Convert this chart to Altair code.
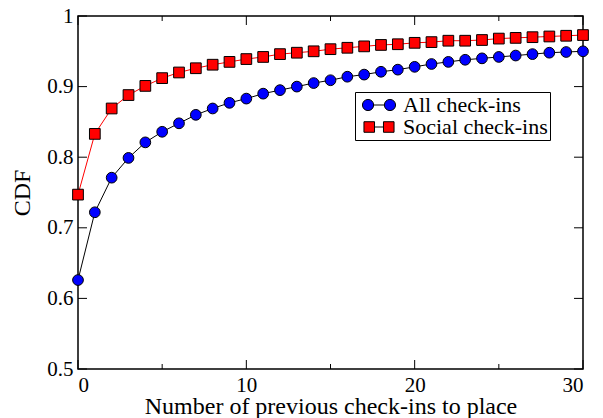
import altair as alt
import pandas as pd

# ---- data ----
checkins = list(range(31))
all_cdf = [0.626, 0.722, 0.771, 0.799, 0.821, 0.836, 0.848, 0.860, 0.869, 0.877,
           0.883, 0.890, 0.895, 0.900, 0.905, 0.909, 0.914, 0.917, 0.921, 0.924,
           0.928, 0.932, 0.935, 0.938, 0.940, 0.942, 0.944, 0.946, 0.948, 0.949,
           0.950]
social_cdf = [0.747, 0.833, 0.869, 0.888, 0.901, 0.912, 0.920, 0.926, 0.931, 0.935,
              0.939, 0.942, 0.946, 0.948, 0.950, 0.953, 0.955, 0.957, 0.959, 0.960,
              0.962, 0.963, 0.965, 0.965, 0.966, 0.968, 0.969, 0.970, 0.971, 0.972,
              0.973]
series_names = ["All check-ins", "Social check-ins"]
x_major_ticks = [0, 10, 20, 30]
x_minor_ticks = [5, 15, 25]
y_ticks = [0.5, 0.6, 0.7, 0.8, 0.9, 1.0]

# ---- styling ----
W, H = 505, 353
FONT = "Liberation Serif"
MAJ, MIN = 9, 5
fill_colors = ["#0000ff", "#ff0000"]
line_colors = ["#000000", "#ff0000"]
# legend glyphs (unit = 8 px): marker - line - marker
circle_pair = ("M -2.07 0 A 0.7 0.7 0 1 0 -0.67 0 A 0.7 0.7 0 1 0 -2.07 0 Z "
               "M -0.67 0 L 0.67 0 "
               "M 0.67 0 A 0.7 0.7 0 1 0 2.07 0 A 0.7 0.7 0 1 0 0.67 0 Z")
square_pair = ("M -1.88 -0.66 L -0.56 -0.66 L -0.56 0.66 L -1.88 0.66 Z "
               "M -0.56 0 L 0.56 0 "
               "M 0.56 -0.66 L 1.88 -0.66 L 1.88 0.66 L 0.56 0.66 Z")

df = pd.DataFrame({
    "x": checkins * 2,
    "cdf": all_cdf + social_cdf,
    "series": [series_names[0]] * len(checkins) + [series_names[1]] * len(checkins),
})
xmaj = pd.DataFrame({"x": x_major_ticks})
xmin = pd.DataFrame({"x": x_minor_ticks})
yt = pd.DataFrame({"cdf": y_ticks})

xscale = alt.Scale(domain=[0, 30], nice=False, zero=False)
yscale = alt.Scale(domain=[0.5, 1.0], nice=False, zero=False)

x_axis = alt.Axis(
    values=x_major_ticks, title="Number of previous check-ins to place",
    ticks=False, domain=False, grid=False, labelFont=FONT, labelFontSize=21,
    labelColor="black", labelPadding=5, titleFont=FONT, titleFontSize=24,
    titleFontWeight="normal", titleColor="black", titlePadding=-1)
y_axis = alt.Axis(
    values=y_ticks, format=".1~f", title="CDF",
    ticks=False, domain=False, grid=False, labelFont=FONT, labelFontSize=21,
    labelColor="black", labelPadding=5, titleFont=FONT, titleFontSize=24,
    titleFontWeight="normal", titleColor="black", titlePadding=12)

x_enc = alt.X("x:Q", scale=xscale, axis=x_axis)
y_enc = alt.Y("cdf:Q", scale=yscale, axis=y_axis)

lines = alt.Chart(df).mark_line(strokeWidth=1).encode(
    x=x_enc, y=y_enc,
    stroke=alt.Stroke("series:N", scale=alt.Scale(domain=series_names, range=line_colors), legend=None),
)
points = alt.Chart(df).mark_point(filled=True, size=115, stroke="black", strokeWidth=1, opacity=1).encode(
    x=x_enc, y=y_enc,
    fill=alt.Fill("series:N", scale=alt.Scale(domain=series_names, range=fill_colors), legend=None),
    shape=alt.Shape("series:N", scale=alt.Scale(domain=series_names, range=["circle", "square"]), legend=None),
)
legend_layer = alt.Chart(df).transform_filter("datum.x < 0").mark_point(
    filled=True, size=256, strokeWidth=1, opacity=1).encode(
    x=x_enc, y=y_enc,
    fill=alt.Fill("series:N", scale=alt.Scale(domain=series_names, range=fill_colors),
                  legend=alt.Legend(title=None)),
    shape=alt.Shape("series:N", scale=alt.Scale(domain=series_names, range=[circle_pair, square_pair]),
                    legend=alt.Legend(title=None)),
    stroke=alt.Stroke("series:N", scale=alt.Scale(domain=series_names, range=["black", "black"]),
                      legend=alt.Legend(title=None)),
)

def xr(data, y0, y1):
    return alt.Chart(data).mark_rule(color="black", strokeWidth=1).encode(
        x=x_enc, y=alt.value(y0), y2=alt.value(y1))

def yr(data, x0, x1):
    return alt.Chart(data).mark_rule(color="black", strokeWidth=1).encode(
        y=y_enc, x=alt.value(x0), x2=alt.value(x1))

ticks = [
    xr(xmaj, H, H - MAJ), xr(xmin, H, H - MIN),
    xr(xmaj, 0, MAJ), xr(xmin, 0, MIN),
    yr(yt, 0, MAJ), yr(yt, W, W - MAJ),
]

chart = alt.layer(lines, points, legend_layer, *ticks).resolve_scale(
    shape="independent", fill="independent", stroke="independent"
).properties(
    width=W, height=H,
    autosize=alt.AutoSizeParams(type="none"),
    padding={"left": 70, "top": 8, "right": 12, "bottom": 50},
).configure_view(
    stroke="black", strokeWidth=1.5
).configure_legend(
    orient="none", legendX=277, legendY=76,
    labelFont=FONT, labelFontSize=22, labelColor="black", labelLimit=400,
    symbolSize=256, symbolStrokeWidth=1, symbolOffset=11,
    padding=2, strokeColor="black", fillColor="white", labelOffset=13,
    rowPadding=-8, cornerRadius=0,
)

chart.save("out.html", embed_options={"renderer": "svg", "actions": False})
